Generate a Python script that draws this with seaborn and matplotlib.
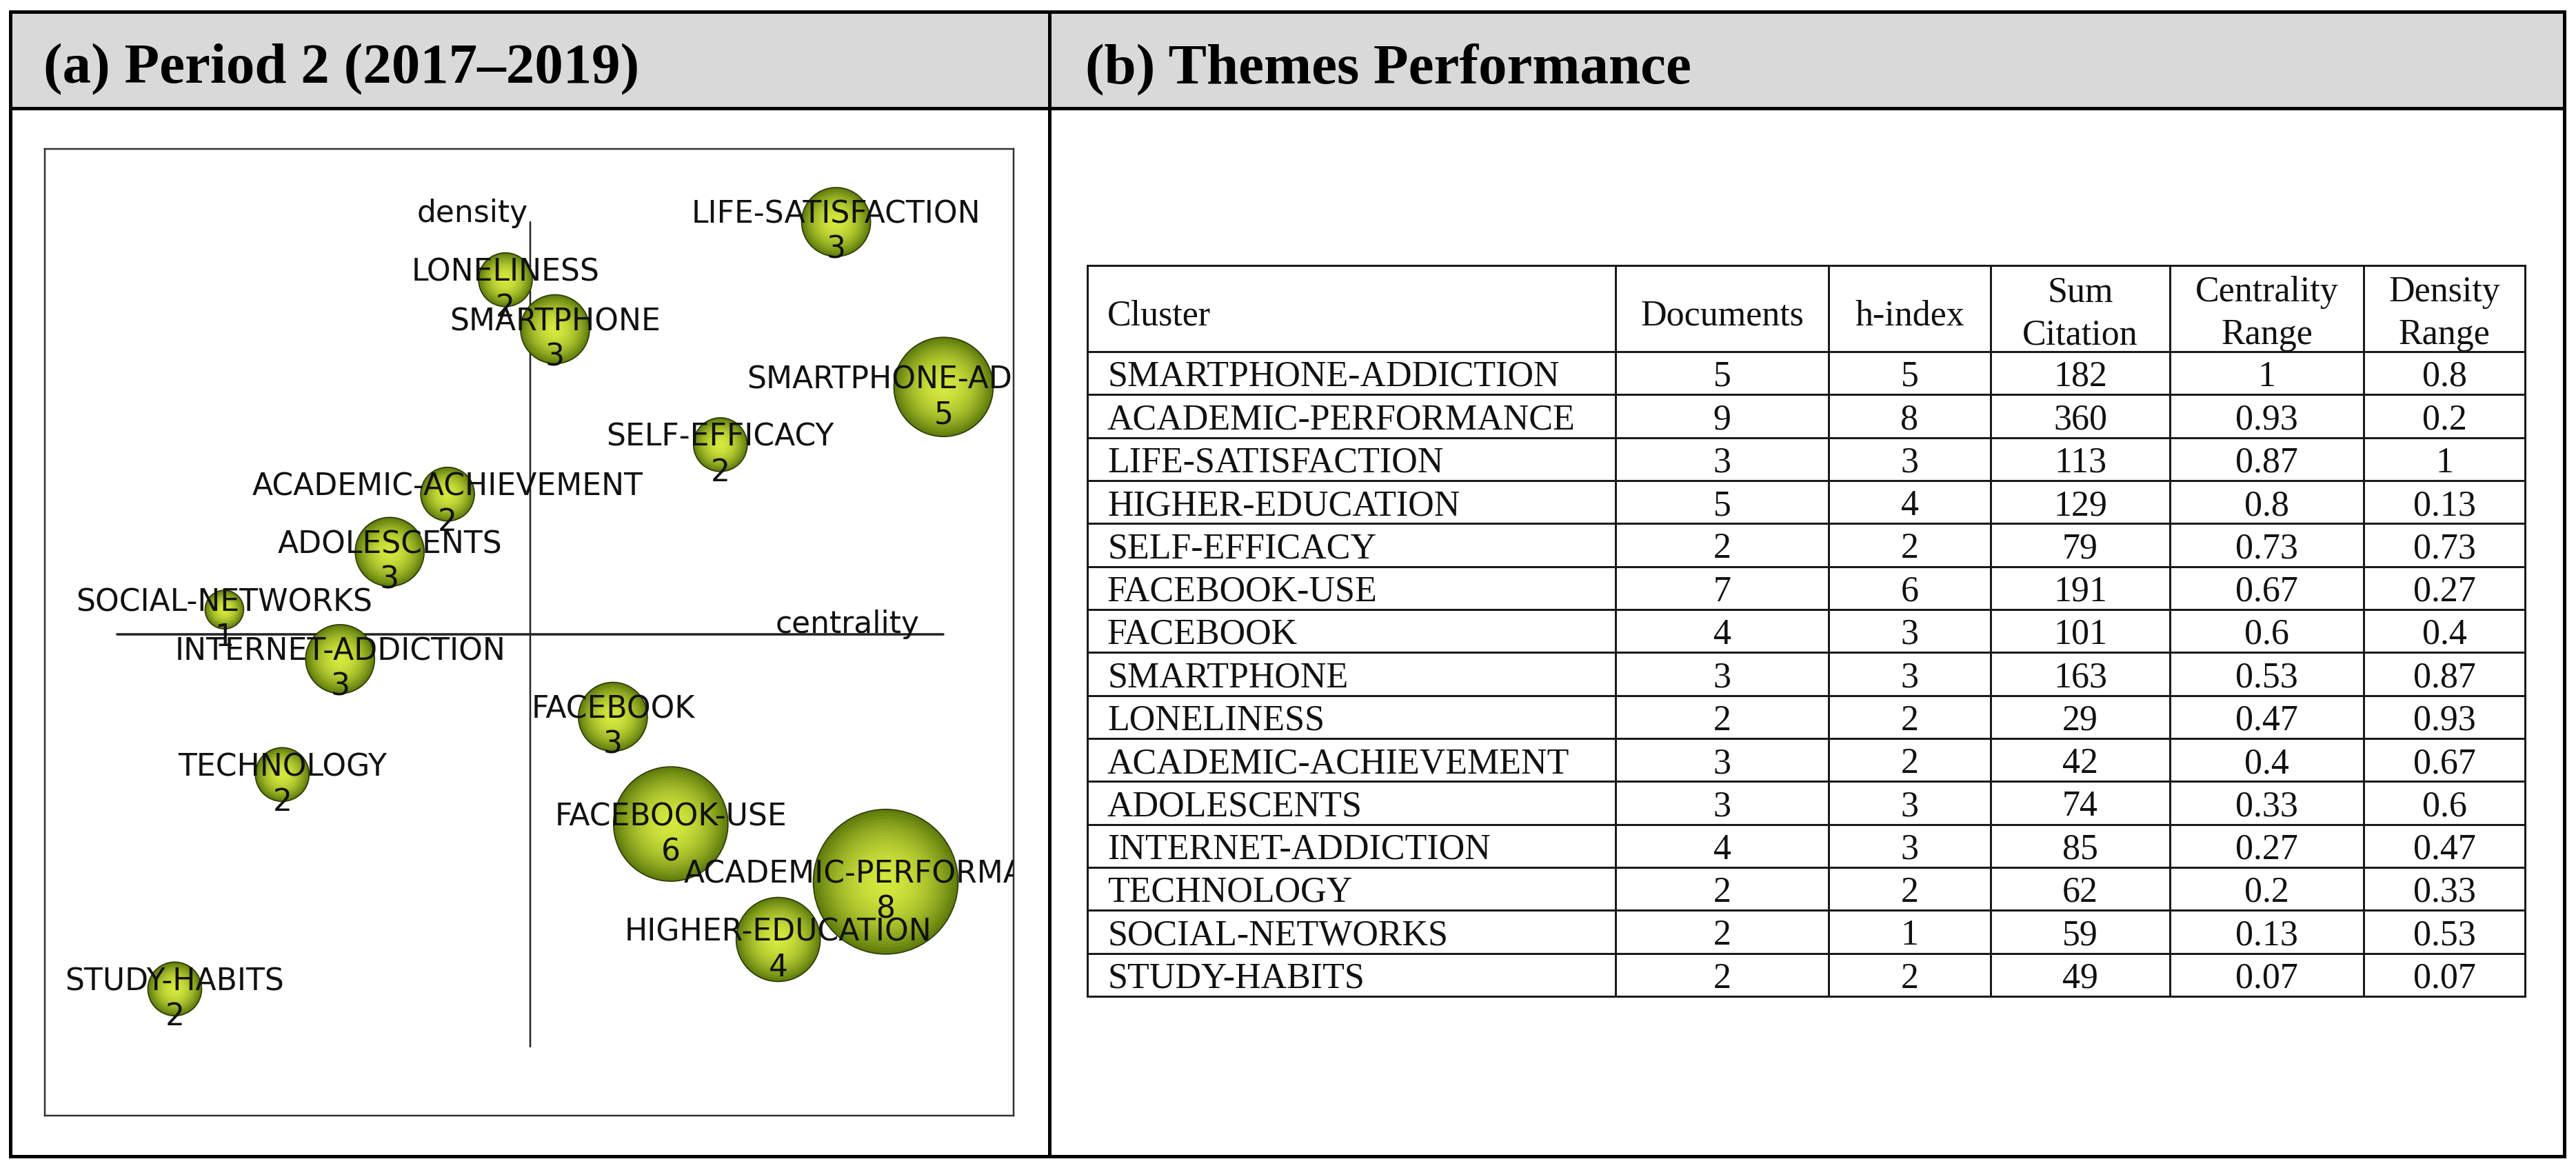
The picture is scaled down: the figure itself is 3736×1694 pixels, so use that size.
import matplotlib
matplotlib.use("Agg")
import matplotlib.pyplot as plt
from matplotlib.patches import Rectangle
import matplotlib.colors as mcolors
import seaborn as sns
import pandas as pd
import numpy as np

clusters = ["SMARTPHONE-ADDICTION", "ACADEMIC-PERFORMANCE", "LIFE-SATISFACTION",
            "HIGHER-EDUCATION", "SELF-EFFICACY", "FACEBOOK-USE", "FACEBOOK",
            "SMARTPHONE", "LONELINESS", "ACADEMIC-ACHIEVEMENT", "ADOLESCENTS",
            "INTERNET-ADDICTION", "TECHNOLOGY", "SOCIAL-NETWORKS", "STUDY-HABITS"]
documents = [5, 9, 3, 5, 2, 7, 4, 3, 2, 3, 3, 4, 2, 2, 2]
h_index = [5, 8, 3, 4, 2, 6, 3, 3, 2, 2, 3, 3, 2, 1, 2]
sum_citation = [182, 360, 113, 129, 79, 191, 101, 163, 29, 42, 74, 85, 62, 59, 49]
centrality_range = [1, 0.93, 0.87, 0.8, 0.73, 0.67, 0.6, 0.53, 0.47, 0.4, 0.33,
                    0.27, 0.2, 0.13, 0.07]
density_range = [0.8, 0.2, 1, 0.13, 0.73, 0.27, 0.4, 0.87, 0.93, 0.67, 0.6,
                 0.47, 0.33, 0.53, 0.07]

headers = ["Cluster", "Documents", "h-index", "Sum\nCitation",
           "Centrality\nRange", "Density\nRange"]
title_a = "(a) Period 2 (2017\u20132019)"
title_b = "(b) Themes Performance"

df = pd.DataFrame({
    "Cluster": clusters,
    "Documents": documents,
    "h-index": h_index,
    "Sum Citation": sum_citation,
    "Centrality Range": centrality_range,
    "Density Range": density_range,
})

# ---- figure setup (work in pixels, 100 dpi) ----
W, H = 3736, 1694
DPI = 100
PT = 72 / DPI  # points per pixel

sns.set_theme(style="white")
plt.rcParams["font.family"] = ["DejaVu Sans"]

fig = plt.figure(figsize=(W / DPI, H / DPI), dpi=DPI)
fig.patch.set_facecolor("white")


def frac_box(x0, y0, x1, y1):
    return [x0 / W, 1 - y1 / H, (x1 - x0) / W, (y1 - y0) / H]


page = fig.add_axes([0, 0, 1, 1], zorder=0)
page.set_xlim(0, W)
page.set_ylim(H, 0)
page.axis("off")

# header band and frame
L, R, T, B = 15, 3719, 17, 1677
HEAD = 157
DIV = 1522
page.add_patch(Rectangle((L, T), R - L, HEAD - T, facecolor="#d9d9d9",
                         edgecolor="none"))
frame_kw = dict(color="black", lw=5 * PT, solid_joinstyle="miter",
                solid_capstyle="projecting")
page.plot([L, R, R, L, L], [T, T, B, B, T], **frame_kw)
page.plot([L, R], [HEAD, HEAD], **frame_kw)
page.plot([DIV, DIV], [T, B], **frame_kw)

title_kw = dict(family="Liberation Serif", fontweight="bold", fontsize=83 * PT,
                va="baseline", ha="left", color="black")
page.text(63, 120, title_a, **title_kw)
page.text(1574, 120, title_b, **title_kw)

# ---- (b) table ----
col_edges = [1577, 2343, 2652, 2887, 3147, 3428, 3662]
tab_top, head_bot, tab_bot = 385, 510, 1445
row_h = (tab_bot - head_bot) / len(clusters)
line_kw = dict(color="#1a1a1a", lw=3 * PT, solid_capstyle="projecting")

page.plot([col_edges[0], col_edges[-1]], [tab_top, tab_top], **line_kw)
for i in range(len(clusters) + 1):
    y = head_bot + i * row_h
    page.plot([col_edges[0], col_edges[-1]], [y, y], **line_kw)
for x in col_edges:
    page.plot([x, x], [tab_top, tab_bot], **line_kw)

cell_kw = dict(family="Liberation Serif", fontsize=52 * PT, color="#111111",
               va="baseline")
col_centers = [(a + b) / 2 for a, b in zip(col_edges[:-1], col_edges[1:])]
for j, head in enumerate(headers):
    lines = head.split("\n")
    if j == 0:
        page.text(col_edges[0] + 29, 471, lines[0], ha="left", **cell_kw)
    elif len(lines) == 1:
        page.text(col_centers[j], 471, lines[0], ha="center", **cell_kw)
    else:
        page.text(col_centers[j], 437, lines[0], ha="center", **cell_kw)
        page.text(col_centers[j], 499, lines[1], ha="center", **cell_kw)

for i, row in df.iterrows():
    yb = head_bot + i * row_h + 50
    vals = [row["Cluster"], f"{row['Documents']:d}", f"{row['h-index']:d}",
            f"{row['Sum Citation']:d}", f"{row['Centrality Range']:g}",
            f"{row['Density Range']:g}"]
    page.text(col_edges[0] + 29, yb, vals[0], ha="left", **cell_kw)
    for j in range(1, len(vals)):
        page.text(col_centers[j], yb, vals[j], ha="center", **cell_kw)

# ---- (a) strategic diagram ----
ax = fig.add_axes(frac_box(65, 216, 1470, 1618), zorder=2)
ax.set_facecolor("white")

levels = sorted(set(h_index))
edge_rgb = np.array(mcolors.to_rgb("#5f7d0c"))
center_rgb = np.array(mcolors.to_rgb("#d4e83e"))
n_layers = 22
for k in range(n_layers):
    f = 1 - k / n_layers
    rgb = center_rgb + (edge_rgb - center_rgb) * f ** 2.0
    sizes = {h: ((34 + 22 * h) * PT * f) ** 2 for h in levels}
    sns.scatterplot(data=df, x="Centrality Range", y="Density Range",
                    size="h-index", sizes=sizes, color=rgb, legend=False,
                    edgecolor="#2e3808" if k == 0 else "none",
                    linewidth=1.2 if k == 0 else 0, ax=ax, zorder=3 + k * 0.01)

# quadrant axes
ax.plot([0.5, 0.5], [0, 1], color="#222222", lw=2.5 * PT, zorder=2)
ax.plot([0, 1], [0.5, 0.5], color="#222222", lw=3.5 * PT, zorder=2)

lab_kw = dict(fontsize=44 * PT, color="#111111", va="baseline",
              textcoords="offset pixels", clip_on=True, zorder=10,
              family="DejaVu Sans")
ax.annotate("density", (0.5, 1.0), xytext=(-3, 0), ha="right", **lab_kw)
ax.annotate("centrality", (1.0, 0.5), xytext=(-35, 2), ha="right", **lab_kw)

for _, row in df.iterrows():
    xy = (row["Centrality Range"], row["Density Range"])
    ax.annotate(row["Cluster"], xy, xytext=(0, -2), ha="center", **lab_kw)
    ax.annotate(str(row["h-index"]), xy, xytext=(0, -53), ha="center", **lab_kw)

ax.set_xlim(-0.0872, 1.0847)
ax.set_ylim(-0.0836, 1.0886)
ax.set_xlabel("")
ax.set_ylabel("")
ax.set_xticks([])
ax.set_yticks([])
for sp in ax.spines.values():
    sp.set_visible(True)
    sp.set_color("#333333")
    sp.set_linewidth(2.5 * PT)

fig.savefig("out.png", dpi=DPI)
